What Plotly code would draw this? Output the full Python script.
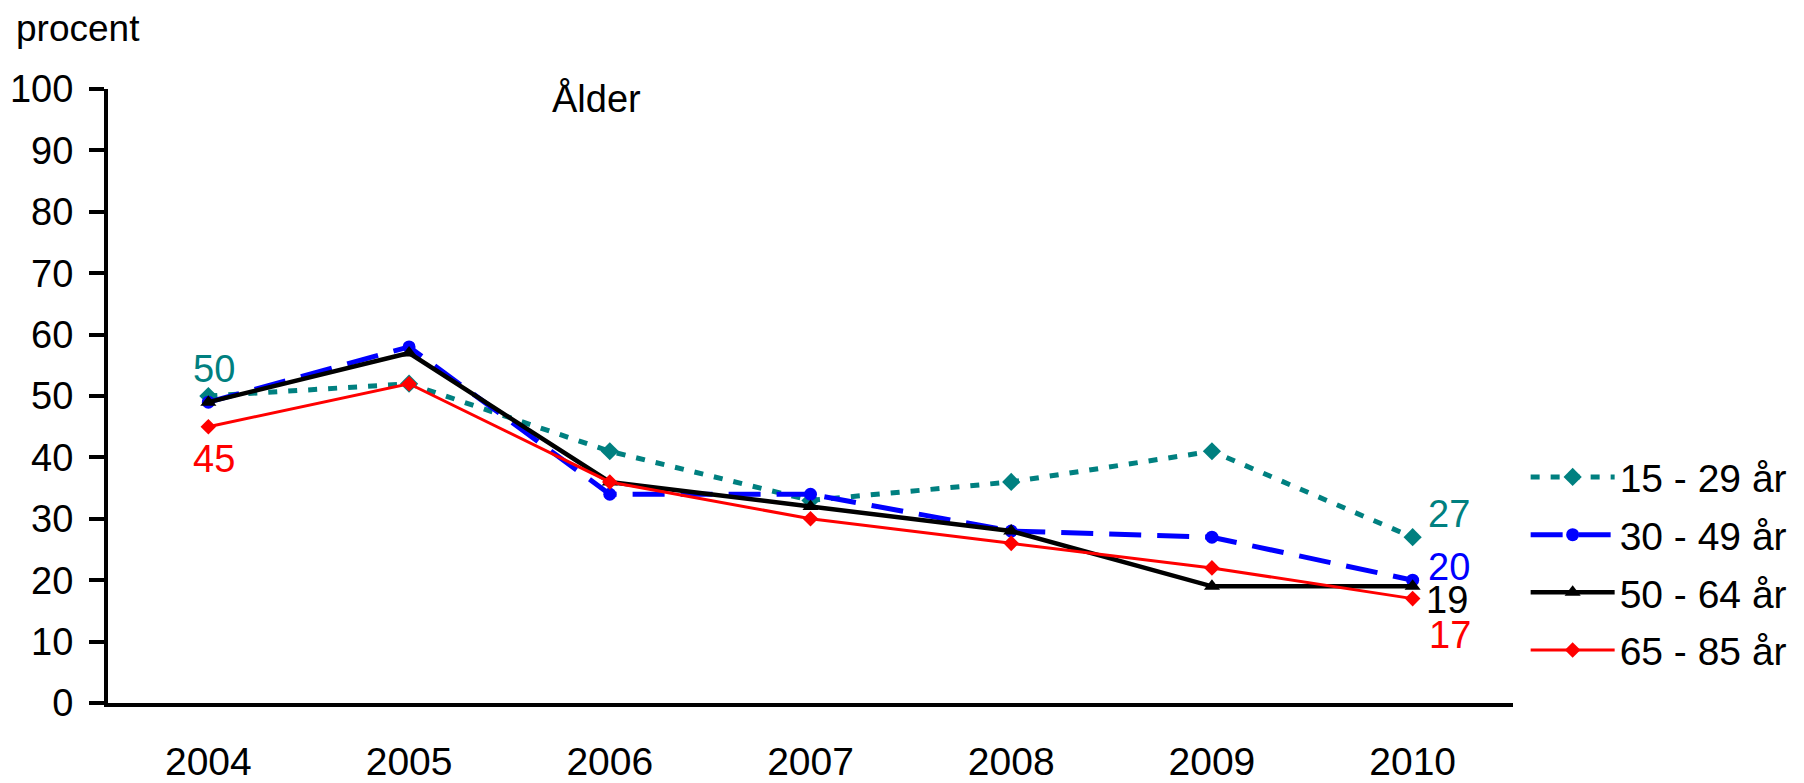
import plotly.graph_objects as go

years = [2004, 2005, 2006, 2007, 2008, 2009, 2010]
series_names = ["15 - 29 år", "30 - 49 år", "50 - 64 år", "65 - 85 år"]
v_15_29 = [50, 52, 41, 33, 36, 41, 27]
v_30_49 = [49, 58, 34, 34, 28, 27, 20]
v_50_64 = [49, 57, 36, 32, 28, 19, 19]
v_65_85 = [45, 52, 36, 30, 26, 22, 17]
y_ticks = [0, 10, 20, 30, 40, 50, 60, 70, 80, 90, 100]

FONT = "Liberation Sans, Arial, sans-serif"
FS = 38

styles = [
    dict(color="#008080", width=5, dash="9px,11px", symbol="diamond", msize=14),
    dict(color="#0000FF", width=5, dash="32px,16px", symbol="circle", msize=13),
    dict(color="#000000", width=4.5, dash="solid", symbol="triangle-up", msize=14),
    dict(color="#FF0000", width=3, dash="solid", symbol="diamond", msize=12),
]
values = [v_15_29, v_30_49, v_50_64, v_65_85]

fig = go.Figure()
for i, (name, vals, st) in enumerate(zip(series_names, values, styles)):
    fig.add_trace(go.Scatter(
        x=years, y=vals, name=name, mode="lines+markers",
        line=dict(color=st["color"], width=st["width"], dash=st["dash"]),
        marker=dict(symbol=st["symbol"], size=st["msize"], color=st["color"]),
        legendgroup=f"g{i}",
    ))

# data labels: (series index, point index, xshift, yshift)
label_specs = [
    (0, 0, 6, 27), (3, 0, 6, -32),
    (0, 6, 36, 23), (1, 6, 36, 13), (2, 6, 34, -14), (3, 6, 37, -36),
]
for si, pi, dx, dy in label_specs:
    fig.add_annotation(
        x=years[pi], y=values[si][pi], text=str(values[si][pi]),
        showarrow=False, xshift=dx, yshift=dy,
        font=dict(family=FONT, size=FS, color=styles[si]["color"]),
    )

fig.add_annotation(xref="paper", yref="paper", x=-0.0669, y=1.098, xanchor="left", yanchor="middle",
                   text="procent", showarrow=False, font=dict(family=FONT, size=37, color="black"))
fig.add_annotation(xref="paper", yref="paper", x=0.348, y=0.985, xanchor="center", yanchor="middle",
                   text="Ålder", showarrow=False, font=dict(family=FONT, size=FS, color="black"))

fig.update_layout(
    width=1796, height=775,
    margin=dict(l=100, r=276, t=81, b=80),
    paper_bgcolor="white", plot_bgcolor="white",
    font=dict(family=FONT, size=FS, color="black"),
    showlegend=True,
    legend=dict(x=1.009, y=0.420, xanchor="left", yanchor="top",
                font=dict(family=FONT, size=39, color="black"),
                itemwidth=84, tracegroupgap=4, traceorder="grouped",
                bgcolor="rgba(0,0,0,0)", borderwidth=0),
    xaxis=dict(range=[2003.5, 2010.5], tickmode="array", tickvals=years,
               ticktext=[str(y) for y in years], showgrid=False, zeroline=False,
               showline=True, linecolor="black", linewidth=4, ticks="",
               ticklabelstandoff=21, automargin=False, tickfont=dict(family=FONT, size=39)),
    yaxis=dict(range=[0, 100], tickmode="array", tickvals=y_ticks, showgrid=False,
               zeroline=False, showline=True, linecolor="black", linewidth=4,
               ticks="outside", ticklen=15, tickwidth=4, tickcolor="black",
               ticklabelstandoff=8, automargin=False, tickfont=dict(family=FONT, size=38)),
)

fig.write_html("out.html")
